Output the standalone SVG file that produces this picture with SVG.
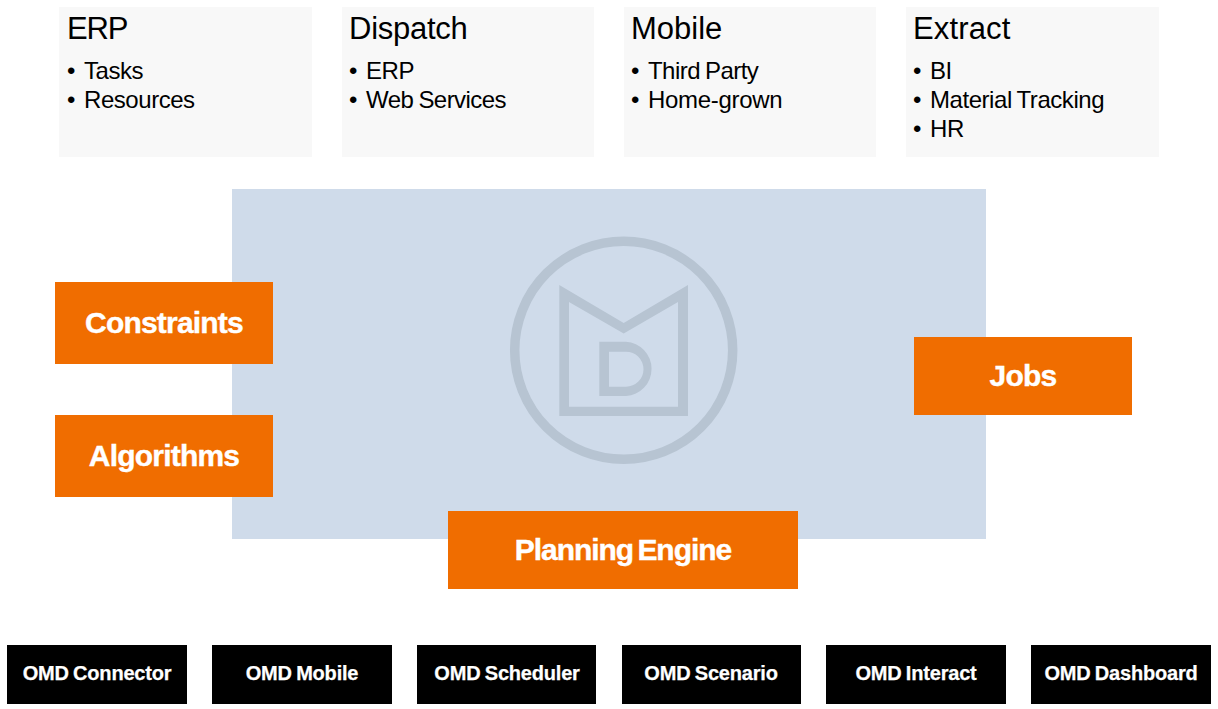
<svg xmlns="http://www.w3.org/2000/svg" width="1218" height="709" viewBox="0 0 1218 709">
<style>
text{font-family:"Liberation Sans",Arial,sans-serif;fill:#000}
.card{fill:#f8f8f8}
.h{font-size:31px;letter-spacing:0}
.li{font-size:24px;letter-spacing:-.45px;word-spacing:-1px}
.o{fill:#f06d00}
.ot{fill:#fff;stroke:#fff;stroke-width:.4px;font-weight:700;font-size:30px;letter-spacing:-.8px;word-spacing:-3px;text-anchor:middle}
.b{fill:#000}
.bt{fill:#fff;stroke:#fff;stroke-width:.25px;font-weight:700;font-size:20px;letter-spacing:-.2px;word-spacing:-1px;text-anchor:middle}
.logo{fill:#b7c4d2;fill-rule:evenodd}
</style>
<rect width="1218" height="709" fill="#fff"/>
<g id="erp"><rect class="card" x="59" y="7" width="253" height="150"/><text class="h" x="67" y="39" style="letter-spacing:-1.2px">ERP</text><text class="li" x="67" y="79">•</text><text class="li" x="84" y="79">Tasks</text><text class="li" x="67" y="108">•</text><text class="li" x="84" y="108">Resources</text></g>
<g id="dispatch"><rect class="card" x="342" y="7" width="252" height="150"/><text class="h" x="349" y="39" style="letter-spacing:-.25px">Dispatch</text><text class="li" x="349" y="79">•</text><text class="li" x="366" y="79">ERP</text><text class="li" x="349" y="108">•</text><text class="li" x="366" y="108" style="letter-spacing:-.55px">Web Services</text></g>
<g id="mobile"><rect class="card" x="624" y="7" width="252" height="150"/><text class="h" x="631" y="39">Mobile</text><text class="li" x="631" y="79">•</text><text class="li" x="648" y="79" style="letter-spacing:-.55px">Third Party</text><text class="li" x="631" y="108">•</text><text class="li" x="648" y="108" style="letter-spacing:-.3px">Home-grown</text></g>
<g id="extract"><rect class="card" x="906" y="7" width="253" height="150"/><text class="h" x="913" y="39" style="letter-spacing:.15px">Extract</text><text class="li" x="913" y="79">•</text><text class="li" x="930" y="79">BI</text><text class="li" x="913" y="108">•</text><text class="li" x="930" y="108">Material Tracking</text><text class="li" x="913" y="137">•</text><text class="li" x="930" y="137">HR</text></g>
<g id="engine-panel"><rect x="232" y="189" width="754" height="350" fill="#cfdbea"/>
<circle cx="623.7" cy="350.3" r="109" fill="none" stroke="#b7c4d2" stroke-width="9.500"/>
<path class="logo" d="M559.3 285L623.7 323L688 285V416H559.3ZM569 302V406.700H678V302L623.700 333.500Z"/>
<path class="logo" d="M599.3 341.7H626A27.2 27.2 0 0 1 626 396H599.3ZM609 351.700V386.700H626A17.500 17.500 0 0 0 626 351.700Z"/></g>
<g id="constraints"><rect class="o" x="55" y="282" width="218" height="82"/><text class="ot" x="164" y="333">Constraints</text></g>
<g id="algorithms"><rect class="o" x="55" y="415" width="218" height="82"/><text class="ot" x="164" y="466">Algorithms</text></g>
<g id="jobs"><rect class="o" x="914" y="337" width="218" height="78"/><text class="ot" x="1023" y="386">Jobs</text></g>
<g id="planning"><rect class="o" x="448" y="511" width="350" height="78"/><text class="ot" x="623" y="560" style="letter-spacing:-1.05px">Planning Engine</text></g>
<g id="omd-connector"><rect class="b" x="7" y="645" width="180" height="59"/><text class="bt" x="97" y="680">OMD Connector</text></g>
<g id="omd-mobile"><rect class="b" x="212" y="645" width="180" height="59"/><text class="bt" x="302" y="680">OMD Mobile</text></g>
<g id="omd-scheduler"><rect class="b" x="417" y="645" width="179" height="59"/><text class="bt" x="507" y="680">OMD Scheduler</text></g>
<g id="omd-scenario"><rect class="b" x="622" y="645" width="179" height="59"/><text class="bt" x="711" y="680">OMD Scenario</text></g>
<g id="omd-interact"><rect class="b" x="826" y="645" width="180" height="59"/><text class="bt" x="916" y="680">OMD Interact</text></g>
<g id="omd-dashboard"><rect class="b" x="1031" y="645" width="180" height="59"/><text class="bt" x="1121" y="680">OMD Dashboard</text></g>
<g id="connectors"></g>
</svg>
